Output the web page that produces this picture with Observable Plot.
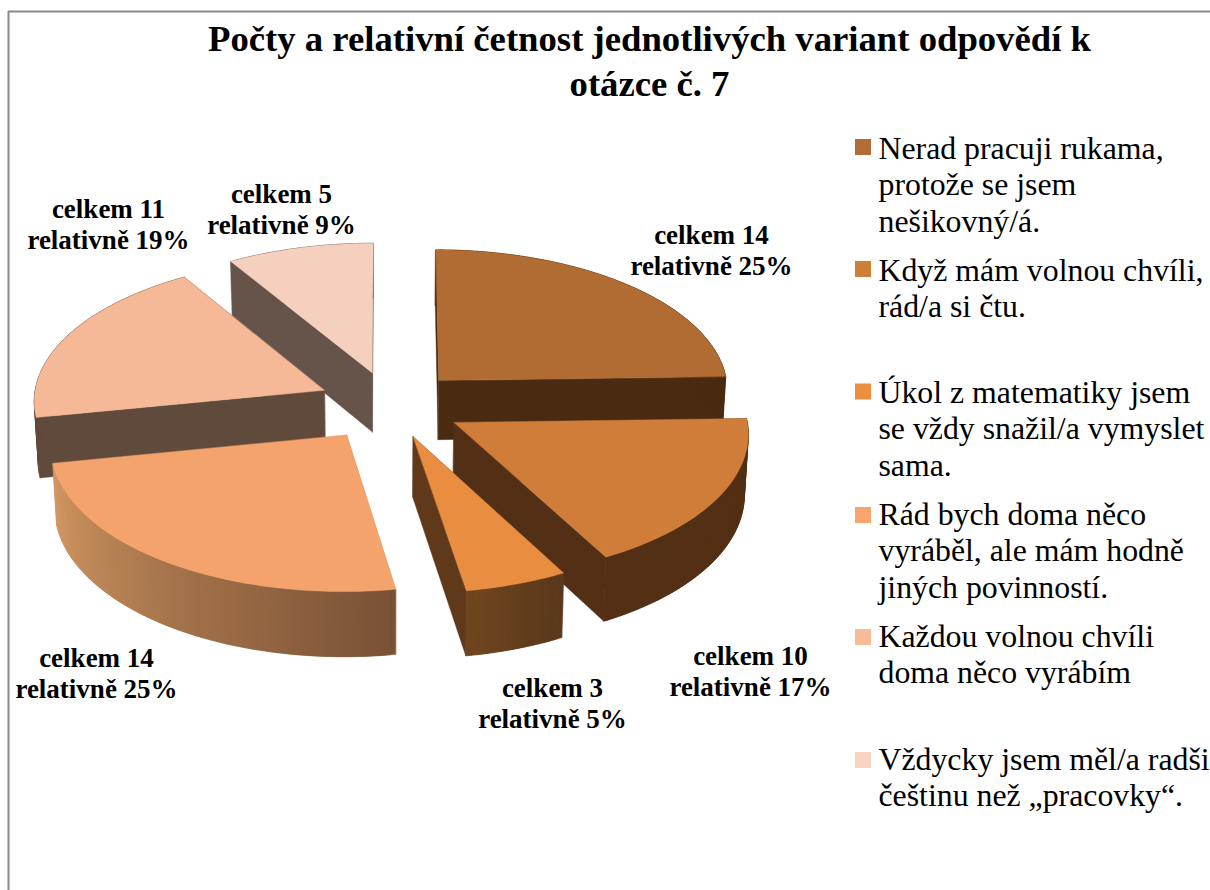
<!DOCTYPE html>
<html>
<head>
<meta charset="utf-8">
<script src="https://cdn.jsdelivr.net/npm/d3@7"></script>
<script src="https://cdn.jsdelivr.net/npm/@observablehq/plot@0.6"></script>
<style>html,body{margin:0;padding:0;background:#fff;overflow:hidden}svg{display:block}</style>
</head>
<body>
<div id="chart"></div>
<script>
// Data
const titleText = "Počty a relativní četnost jednotlivých variant odpovědí k\notázce č. 7";
const categories = [
  "Nerad pracuji rukama,\nprotože se jsem\nnešikovný/á.",
  "Když mám volnou chvíli,\nrád/a si čtu.",
  "Úkol z matematiky jsem\nse vždy snažil/a vymyslet\nsama.",
  "Rád bych doma něco\nvyráběl, ale mám hodně\njiných povinností.",
  "Každou volnou chvíli\ndoma něco vyrábím",
  "Vždycky jsem měl/a radši\nčeštinu než „pracovky“."
];
const counts = [14, 10, 3, 14, 11, 5];
const percents = [25, 17, 5, 25, 19, 9];

// Styles
const topColors = ["#b06c33", "#cf7d39", "#e98e41", "#f4a36c", "#f5b998", "#f5d0bf"];
const legendColors = ["#b36c35", "#cf7e38", "#ec8f42", "#f8a56e", "#f8bb9a", "#f9d3c1"];
const sideColors = ["#4a2a11", "#533015", "#5f391a", "#c08a58", "#604a3b", "#66544a"];
const arcFrom = [null, null, "#70461f", "#d59a64", null, null];
const arcTo = [null, null, "#5a381b", "#7a5135", null, null];

// Layout
const cx = 390, cy = 404, S = 291, T = 142, k = 0.065, D = 60, converge = 0.011;
const explode = [0.24, 0.25, 0.235, 0.26, 0.25, 0.235];
const legendX = 878, legendSwatch = 16, legendLeft = 855;
const legendSwatchY = [147, 269, 391.5, 515, 637, 760];
const legendTextY = [132, 254, 376, 498, 620, 743];
const labelX = [711, 750, 552, 96, 108, 281];
const labelY = [249, 670, 702, 672, 223, 208];
const paintOrder = [5, 4, 0, 3, 1, 2];

const total = d3.sum(counts);
const rad = d => d * Math.PI / 180;
let acc = 0;
const slices = counts.map((c, i) => {
  const a0 = acc / total * 360; acc += c;
  const a1 = acc / total * 360;
  const mid = (a0 + a1) / 2;
  return {i, a0, a1, ou: explode[i] * Math.sin(rad(mid)), ov: -explode[i] * Math.cos(rad(mid))};
});
const proj = (u, v, lower) => {
  const w = 1 - k * v;
  const x = cx + u * S / w, y = cy + v * T / w;
  return lower ? [x + (cx - x) * converge, y + D / w] : [x, y];
};
const rim = (s, a) => [s.ou + Math.sin(rad(a)), s.ov - Math.cos(rad(a))];

const points = [];
let id = 0;
const addFace = (pts, color) => {
  id++;
  pts.forEach(([x, y]) => points.push({x, y, id, color}));
};
for (const i of paintOrder) {
  const s = slices[i];
  const apex = [s.ou, s.ov];
  for (const a of [s.a0, s.a1]) {
    const e = rim(s, a);
    addFace([proj(...apex), proj(...e), proj(...e, true), proj(...apex, true)], sideColors[i]);
  }
  const n = Math.ceil(s.a1 - s.a0);
  const arcs = d3.range(n + 1).map(j => s.a0 + (s.a1 - s.a0) * j / n);
  const mixer = arcFrom[i] ? d3.interpolateRgb(arcTo[i], arcFrom[i]) : null;
  for (let j = 0; j < n; j++) {
    // each segment reaches under the next one, so no seams show in the shaded walls
    const p = rim(s, arcs[j]), m = rim(s, arcs[j + 1]), q = rim(s, arcs[Math.min(j + 2, n)]);
    addFace([proj(...p), proj(...m), proj(...q), proj(...q, true), proj(...m, true), proj(...p, true)],
            mixer ? mixer(j / n) : sideColors[i]);
  }
  addFace([proj(...apex), ...arcs.map(a => proj(...rim(s, a)))], topColors[i]);
}

const labels = counts.map((c, i) => ({
  text: `celkem ${c}\nrelativně ${percents[i]}%`, x: labelX[i], y: labelY[i]
}));
const legend = categories.map((text, i) => ({
  text, color: legendColors[i], tx: legendX, ty: legendTextY[i],
  x1: legendLeft, x2: legendLeft + legendSwatch,
  y1: legendSwatchY[i] - legendSwatch / 2, y2: legendSwatchY[i] + legendSwatch / 2
}));

const chart = Plot.plot({
  width: 1210, height: 890, margin: 0,
  style: {fontFamily: "'Liberation Serif', serif", background: "#fff", color: "#000"},
  x: {domain: [0, 1210], range: [0, 1210], axis: null},
  y: {domain: [0, 890], range: [0, 890], axis: null},
  color: {type: "identity"},
  marks: [
    Plot.ruleX([8], {y1: 11, y2: 890, stroke: "#8a8a8a", strokeWidth: 2}),
    Plot.ruleY([11], {x1: 8, x2: 1210, stroke: "#8a8a8a", strokeWidth: 2}),
    Plot.line(points, {x: "x", y: "y", z: "id", fill: "color", stroke: "color", strokeWidth: 0.4, curve: "linear-closed"}),
    Plot.text([titleText], {x: 649, y: 59, text: d => d, fontSize: 36.7, fontWeight: "bold", lineHeight: 1.22, fill: "#000"}),
    Plot.text(labels, {x: "x", y: "y", text: "text", fontSize: 27, fontWeight: "bold", lineHeight: 1.15, fill: "#000"}),
    Plot.rect(legend, {x1: "x1", x2: "x2", y1: "y1", y2: "y2", fill: "color"}),
    Plot.text(legend, {x: "tx", y: "ty", text: "text", textAnchor: "start", lineAnchor: "top", fontSize: 31.8, lineHeight: 1.155, fill: "#000"})
  ]
});
document.getElementById("chart").appendChild(chart);
</script>
</body>
</html>
